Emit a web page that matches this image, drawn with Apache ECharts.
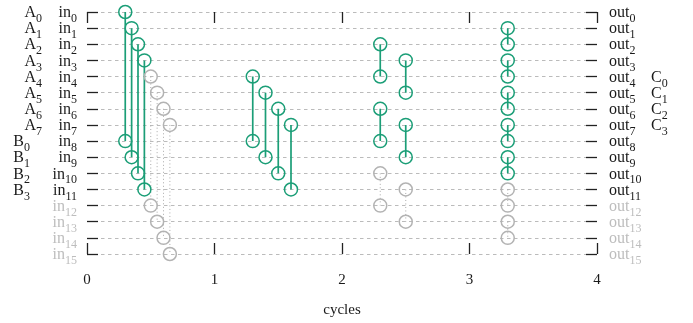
<!DOCTYPE html>
<html>
<head>
<meta charset="utf-8">
<script src="https://cdn.jsdelivr.net/npm/echarts@6/dist/echarts.min.js"></script>
<style>
html,body{margin:0;padding:0;background:#fff;}
#chart{width:693px;height:323px;}
</style>
</head>
<body>
<div id="chart"></div>
<script>
// ---- data ----
const xTicks = [0, 1, 2, 3, 4];
const rowNames = ['0', '1', '2', '3', '4', '5', '6', '7', '8', '9', '10', '11', '12', '13', '14', '15'];
const activeRowCount = 12; // in0..in11 / out0..out11 drawn dark
const aLabelRows = [0, 1, 2, 3, 4, 5, 6, 7];
const aLabelSubs = ['0', '1', '2', '3', '4', '5', '6', '7'];
const bLabelRows = [8, 9, 10, 11];
const bLabelSubs = ['0', '1', '2', '3'];
const cLabelRows = [4, 5, 6, 7];
const cLabelSubs = ['0', '1', '2', '3'];

// active (green) compare-exchange pairs: x position (cycles), from row, to row
const greenX    = [0.3, 0.35, 0.4, 0.45, 1.3, 1.4, 1.5, 1.6, 2.3, 2.3, 2.5, 2.5, 3.3, 3.3, 3.3, 3.3, 3.3];
const greenFrom = [0,   1,    2,   3,    4,   5,   6,   7,   2,   6,   3,   7,   1,   3,   5,   7,   9];
const greenTo   = [8,   9,    10,  11,   8,   9,   10,  11,  4,   8,   5,   9,   2,   4,   6,   8,   10];
// inactive (grey) pairs
const greyX    = [0.5, 0.55, 0.6, 0.65, 2.3, 2.5, 3.3, 3.3];
const greyFrom = [4,   5,    6,   7,    10,  11,  11,  13];
const greyTo   = [12,  13,   14,  15,   12,  13,  12,  14];

// ---- styles ----
const FONT = 'Liberation Serif';
const GREEN = '#1b9e77';
const GREY = '#b3b3b3';
const GREY_LINE = '#aaaaaa';
const DARK = '#1a1a1a';
const LIGHT = '#bdbdbd';

function richFor(color, prefix) {
  const r = {};
  r[prefix + 'n'] = {fontFamily: FONT, fontSize: 16, color: color, lineHeight: 24, verticalAlign: 'top', padding: [5, 0, 0, 0]};
  r[prefix + 's'] = {fontFamily: FONT, fontSize: 12, color: color, lineHeight: 12, verticalAlign: 'top', padding: [13, 0, 0, 0]};
  return r;
}
const rich = Object.assign({}, richFor(DARK, 'd'), richFor(LIGHT, 'g'));

function subLabel(word, sub, dark) {
  const p = dark ? 'd' : 'g';
  return '{' + p + 'n|' + word + '}{' + p + 's|' + sub + '}';
}

const tickStyle = {show: true, inside: true, length: 11, interval: 0, lineStyle: {color: '#222', width: 1.3}};
const noLine = {show: false, onZero: false};

function baseY(extra) {
  return Object.assign({
    type: 'category', data: rowNames, inverse: true, boundaryGap: false,
    axisLine: noLine,
    splitLine: {show: false},
    axisTick: {show: false}
  }, extra);
}
function labelCfg(margin, fmt) {
  return {margin: margin, interval: 0, rich: rich, formatter: fmt};
}

const yAxes = [
  baseY({
    position: 'left',
    axisTick: tickStyle,
    splitLine: {show: true, interval: 0, lineStyle: {color: '#bbbbbb', type: [3.5, 3.5], width: 1}},
    axisLabel: labelCfg(10, (v, i) => subLabel('in', rowNames[i], i < activeRowCount))
  }),
  baseY({
    position: 'right',
    axisTick: tickStyle,
    axisLabel: labelCfg(12, (v, i) => subLabel('out', rowNames[i], i < activeRowCount))
  }),
  baseY({
    position: 'left', offset: 37,
    axisLabel: labelCfg(8, (v, i) => {
      const k = aLabelRows.indexOf(i); return k < 0 ? '' : subLabel('A', aLabelSubs[k], true);
    })
  }),
  baseY({
    position: 'left', offset: 49,
    axisLabel: labelCfg(8, (v, i) => {
      const k = bLabelRows.indexOf(i); return k < 0 ? '' : subLabel('B', bLabelSubs[k], true);
    })
  }),
  baseY({
    position: 'right', offset: 46,
    axisLabel: labelCfg(8, (v, i) => {
      const k = cLabelRows.indexOf(i); return k < 0 ? '' : subLabel('C', cLabelSubs[k], true);
    })
  })
];

const xAxes = [
  {
    type: 'value', min: xTicks[0], max: xTicks[xTicks.length - 1], interval: 1, position: 'bottom',
    axisLine: noLine, axisTick: tickStyle, splitLine: {show: false},
    axisLabel: {margin: 19, fontFamily: FONT, fontSize: 15, color: DARK, showMinLabel: true, showMaxLabel: true},
    name: 'cycles', nameLocation: 'middle', nameGap: 49,
    nameTextStyle: {fontFamily: FONT, fontSize: 15, color: DARK}
  },
  {
    type: 'value', min: xTicks[0], max: xTicks[xTicks.length - 1], interval: 1, position: 'top',
    axisLine: noLine, axisTick: tickStyle, splitLine: {show: false},
    axisLabel: {show: false}
  }
];

const series = [];
function addPairs(xs, from, to, lineColor, circleColor, lineType, lineWidth) {
  const pts = [];
  for (let i = 0; i < xs.length; i++) {
    series.push({
      type: 'line', xAxisIndex: 0, yAxisIndex: 0, silent: true,
      data: [[xs[i], from[i]], [xs[i], to[i]]],
      showSymbol: false, symbol: 'none',
      lineStyle: {color: lineColor, width: lineWidth, type: lineType},
      z: 3
    });
    pts.push([xs[i], from[i]], [xs[i], to[i]]);
  }
  series.push({
    type: 'scatter', xAxisIndex: 0, yAxisIndex: 0, silent: true,
    data: pts, symbol: 'circle', symbolSize: 13,
    itemStyle: {color: 'rgba(0,0,0,0)', borderColor: circleColor, borderWidth: 1.5, opacity: 1},
    z: 4
  });
}
addPairs(greyX, greyFrom, greyTo, GREY_LINE, GREY, [1, 2.5], 1);
addPairs(greenX, greenFrom, greenTo, GREEN, GREEN, 'solid', 1.7);

const chart = echarts.init(document.getElementById('chart'), null, {renderer: 'canvas'});
chart.setOption({
  animation: false,
  backgroundColor: '#ffffff',
  grid: {left: 87, right: 96, top: 10, bottom: 66, containLabel: false},
  xAxis: xAxes,
  yAxis: yAxes,
  series: series
});
</script>
</body>
</html>
